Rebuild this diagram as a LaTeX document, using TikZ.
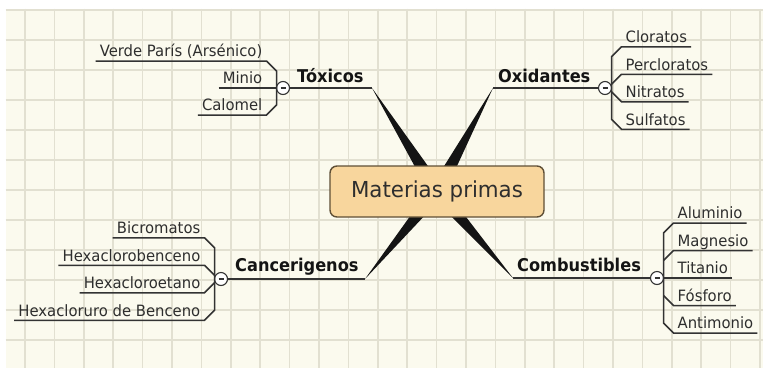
\documentclass[tikz,border=0pt]{standalone}
\usepackage{fontspec}
\setmainfont{DejaVu Sans}
\newfontfamily\hojafont{DejaVu Sans}[FakeStretch=0.95]
\newfontfamily\ramafont{DejaVu Sans}[FakeStretch=0.92]
\newfontfamily\centrofont{DejaVu Sans}[FakeStretch=0.97]
\usetikzlibrary{calc}
\definecolor{fondo}{HTML}{FBFAEE}
\definecolor{cuadro}{HTML}{E2E0D1}
\definecolor{caja}{HTML}{F8D69D}
\definecolor{borde}{HTML}{5F4F36}
\definecolor{trazo}{HTML}{333333}
\definecolor{letra}{HTML}{2E2E2E}

\begin{document}
\begin{tikzpicture}[x=1pt,y=-1pt,
		hoja/.style={inner xsep=4pt,inner ysep=4pt,text height=11pt,text depth=0pt,text=letra,font=\hojafont\fontsize{15.6}{17}\selectfont},
		rama/.style={anchor=base west,inner sep=0pt,text=black!92,font=\ramafont\fontsize{17.6}{19}\selectfont\bfseries},
		boton/.style={shape=circle,draw=trazo,fill=white,line width=1.1pt,inner sep=0pt,minimum size=13pt,text=trazo},
		linea/.style={draw=trazo,line width=1.5pt},
		cuna/.style={fill=black!92}]
			\useasboundingbox (0,0) rectangle (763,368);
			\fill[white] (0,0) rectangle (763,368);
			\fill[fondo] (5.5,8.5) rectangle (763,368);
			\foreach \i in {0,...,25}
				\draw[cuadro,line width=1.5pt] ({25+29.4*\i},8.5) -- ({25+29.4*\i},368);
			\foreach \j in {0,...,11}
				\draw[cuadro,line width=1.5pt] (5.5,{10+30*\j}) -- (763,{10+30*\j});
			
			\coordinate (centro) at (437,191.5);
			\coordinate (toxend) at (372,88);
			\coordinate (oxiend) at (493,88);
			\coordinate (canend) at (365,279);
			\coordinate (comend) at (513,278);
			\foreach \e in {toxend,oxiend,canend,comend}
				\fill[cuna] ($(centro)!7.5pt!90:(\e)$) -- (\e) -- ($(centro)!7.5pt!-90:(\e)$) -- cycle;
			
			\node[draw=borde,fill=caja,line width=1.4pt,rounded corners=7pt,minimum width=214pt,minimum height=51pt,text=letra,font=\centrofont\fontsize{22}{24}\selectfont] (mp) at (centro) {Materias primas};
			
			\node[rama] (tox) at (297,82) {Tóxicos};
			\node[rama] (oxi) at (498,82) {Oxidantes};
			\node[rama] (can) at (235,271) {Cancerigenos};
			\node[rama] (com) at (517,271) {Combustibles};
			
			\node[boton] (txb) at (283,88) {\rule{5pt}{1.1pt}};
			\node[boton] (oxb) at (605,88) {\rule{5pt}{1.1pt}};
			\node[boton] (cab) at (221,279) {\rule{5pt}{1.1pt}};
			\node[boton] (cob) at (657,278) {\rule{5pt}{1.1pt}};
			
			\node[hoja,anchor=south east] (tx1) at (266.5,61) {Verde París (Arsénico)};
			\node[hoja,anchor=south east] (tx2) at (266.5,88) {Minio};
			\node[hoja,anchor=south east] (tx3) at (266.5,115) {Calomel};
			
			\node[hoja,anchor=south west] (ox1) at (621.5,46.75) {Cloratos};
			\node[hoja,anchor=south west] (ox2) at (621.5,74.25) {Percloratos};
			\node[hoja,anchor=south west] (ox3) at (621.5,101.75) {Nitratos};
			\node[hoja,anchor=south west] (ox4) at (621.5,129.25) {Sulfatos};
			
			\node[hoja,anchor=south east] (ca1) at (204.5,237.75) {Bicromatos};
			\node[hoja,anchor=south east] (ca2) at (204.5,265.25) {Hexaclorobenceno};
			\node[hoja,anchor=south east] (ca3) at (204.5,292.75) {Hexacloroetano};
			\node[hoja,anchor=south east] (ca4) at (204.5,320.25) {Hexacloruro de Benceno};
			
			\node[hoja,anchor=south west] (co1) at (673.5,223) {Aluminio};
			\node[hoja,anchor=south west] (co2) at (673.5,250.5) {Magnesio};
			\node[hoja,anchor=south west] (co3) at (673.5,278) {Titanio};
			\node[hoja,anchor=south west] (co4) at (673.5,305.5) {Fósforo};
			\node[hoja,anchor=south west] (co5) at (673.5,333) {Antimonio};
			
			\draw[linea] (txb) -- (toxend);
			\draw[linea] (oxiend) -- (oxb);
			\draw[linea] (cab) -- (canend);
			\draw[linea] (comend) -- (cob);
			
			\draw[linea] (tx1.south west) -- (tx1.south east) -- ++(10,10) -- ($(tx3.south east)+(10,-10)$) -- (tx3.south east) -- (tx3.south west);
			\draw[linea] (tx2.south west) -- (txb);
			
			\draw[linea] (ox1.south east) -- (ox1.south west) -- ++(-10,10) -- ($(ox4.south west)+(-10,-10)$) -- (ox4.south west) -- (ox4.south east);
			\draw[linea] (ox2.south east) -- (ox2.south west) -- ++(-10,10);
			\draw[linea] (ox3.south east) -- (ox3.south west) -- ++(-10,-10);
			
			\draw[linea] (ca1.south west) -- (ca1.south east) -- ++(10,10) -- ($(ca4.south east)+(10,-10)$) -- (ca4.south east) -- (ca4.south west);
			\draw[linea] (ca2.south west) -- (ca2.south east) -- ++(10,10);
			\draw[linea] (ca3.south west) -- (ca3.south east) -- ++(10,-10);
			
			\draw[linea] (co1.south east) -- (co1.south west) -- ++(-10,10) -- ($(co5.south west)+(-10,-10)$) -- (co5.south west) -- (co5.south east);
			\draw[linea] (co2.south east) -- (co2.south west) -- ++(-10,10);
			\draw[linea] (co3.south east) -- (cob);
			\draw[linea] (co4.south east) -- (co4.south west) -- ++(-10,-10);
		\end{tikzpicture}
\end{document}
